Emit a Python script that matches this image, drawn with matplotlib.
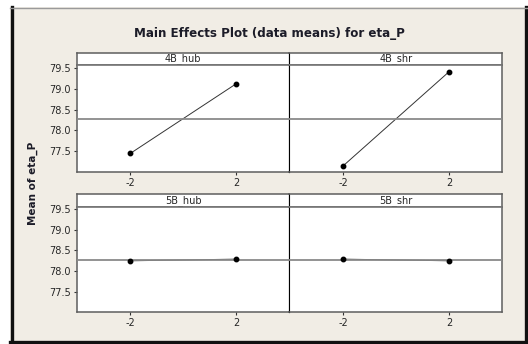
import matplotlib
matplotlib.use("Agg")
import matplotlib.pyplot as plt
from matplotlib.patches import Rectangle
from matplotlib.lines import Line2D

# factor levels and mean responses
levels = [-2, 2]
factors = ["4B_hub", "4B_shr", "5B_hub", "5B_shr"]
means_4B_hub = [77.45, 79.12]
means_4B_shr = [77.15, 79.41]
means_5B_hub = [78.25, 78.29]
means_5B_shr = [78.29, 78.25]
grand_mean = 78.27
yticks = [77.5, 78.0, 78.5, 79.0, 79.5]

W, H = 528, 344
fig = plt.figure(figsize=(W / 100, H / 100), dpi=100)
fig.patch.set_facecolor("white")

beige = "#f1ede5"
txt = "#262626"

def fx(px):
    return px / W

def fy(py):
    return 1 - py / H

# window-like background with a dark frame (drawn under the axes)
fig.patches.append(Rectangle((fx(10), fy(343)), fx(517), 336 / H,
                             transform=fig.transFigure, facecolor=beige,
                             edgecolor="none", zorder=-2))
for xs, ys, c, lw in [([11.5, 11.5], [7, 343], "#111111", 2.4),
                      ([525.8, 525.8], [7, 343], "#111111", 2.4),
                      ([10, 527], [342.2, 342.2], "#111111", 2.4),
                      ([10, 527], [7.5, 7.5], "#9a9a9a", 1.0)]:
    fig.lines.append(Line2D([fx(v) for v in xs], [fy(v) for v in ys],
                            transform=fig.transFigure, color=c, lw=lw, zorder=-1))

fig.text(fx(269), fy(33.5), "Main Effects Plot (data means) for eta_P",
         ha="center", va="center", fontsize=8.6, fontweight="bold", color="#1c1c28")
fig.text(fx(33), fy(183), "Mean of eta_P", rotation=90, ha="center", va="center",
         fontsize=7.5, fontweight="bold", color="#1c1c28")

series = [means_4B_hub, means_4B_shr, means_5B_hub, means_5B_shr]
col_left = [76.7, 289.3]
col_w = [212.6, 213.0]
rows = [(65.3, 171.7, 52.7), (206.7, 312.0, 194.0)]  # plot top, plot bottom, strip top

frame_c = "#5e5e5e"
head_c = "#747474"
for i, name in enumerate(factors):
    r, c = divmod(i, 2)
    top, bot, stop = rows[r]

    # strip header above each panel
    sx = fig.add_axes([fx(col_left[c]), fy(top), col_w[c] / W, (top - stop) / H])
    sx.set_facecolor("white")
    sx.set_xticks([])
    sx.set_yticks([])
    for s in sx.spines.values():
        s.set_color(frame_c)
        s.set_linewidth(1.1)
    sx.spines["bottom"].set_color(head_c)
    sx.spines["bottom"].set_linewidth(1.2)
    if c == 0:
        sx.spines["right"].set_color("black")
        sx.spines["right"].set_linewidth(0.8)
    else:
        sx.spines["left"].set_color("black")
        sx.spines["left"].set_linewidth(0.8)
    sx.text(0.5, 0.5, name, transform=sx.transAxes, ha="center", va="center",
            fontsize=7, color=txt)

    ax = fig.add_axes([fx(col_left[c]), fy(bot), col_w[c] / W, (bot - top) / H])
    ax.set_facecolor("white")
    ax.plot(levels, series[i], color="#333333", lw=0.7, zorder=2)
    ax.axhline(grand_mean, color="#8a8a8a", lw=1.3, zorder=3)
    ax.plot(levels, series[i], "o", color="black", ms=3.2, zorder=4)
    ax.set_xlim(-4.03, 4.0)
    ax.set_ylim(77.01, 79.56)
    ax.set_xticks(levels)
    ax.set_xticklabels([str(v) for v in levels])
    ax.set_yticks(yticks)
    ax.tick_params(axis="x", length=2.5, width=0.8, color="#333333",
                   labelsize=7, labelcolor=txt, pad=2)
    if c == 0:
        ax.set_yticklabels([f"{v:.1f}" for v in yticks])
        ax.tick_params(axis="y", length=2.5, width=0.8, color="#333333",
                       labelsize=7, labelcolor=txt, pad=2)
    else:
        ax.tick_params(axis="y", left=False, labelleft=False)
    for s in ax.spines.values():
        s.set_color(frame_c)
        s.set_linewidth(1.1)
    if c == 0:
        ax.spines["right"].set_color("black")
        ax.spines["right"].set_linewidth(0.8)
    else:
        ax.spines["left"].set_color("black")
        ax.spines["left"].set_linewidth(0.8)
    ax.spines["top"].set_color(head_c)
    ax.spines["top"].set_linewidth(1.2)

fig.savefig("out.png", dpi=100, facecolor=fig.get_facecolor())
